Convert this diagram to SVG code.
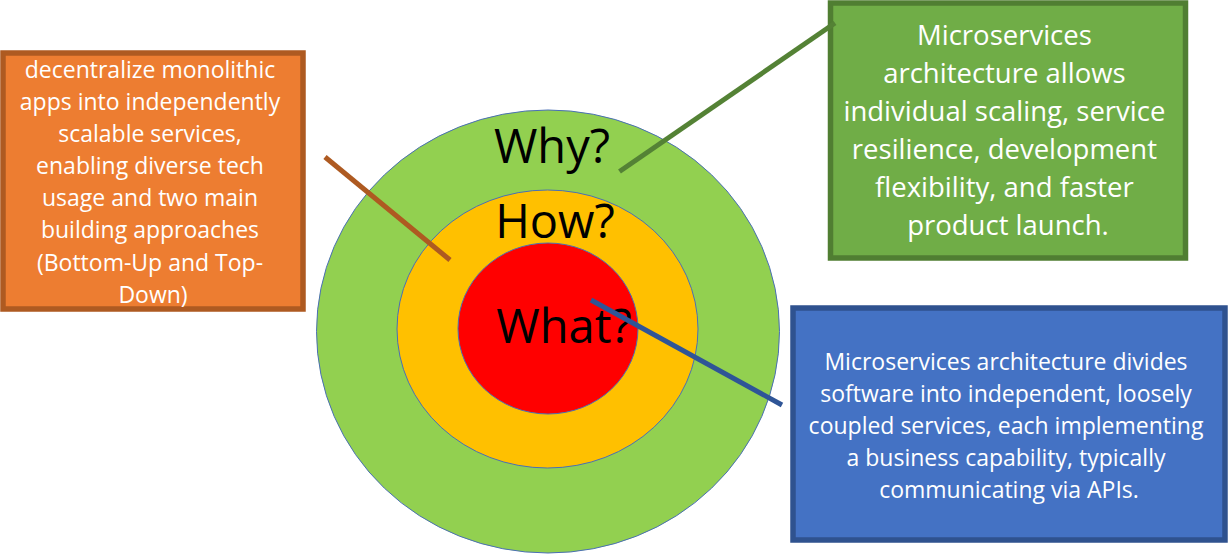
<svg xmlns="http://www.w3.org/2000/svg" width="1232" height="554" viewBox="0 0 1232 554">
<style>
.ring{stroke:#4A6FB5;stroke-width:1}
.q{font-family:"Open Sans","Liberation Sans",sans-serif;font-size:47px;fill:#000;text-anchor:middle}
.box{stroke-width:5.5}
.bt{font-family:"Open Sans","Liberation Sans",sans-serif;fill:#fff;text-anchor:middle}
.s23{font-size:23px}
.s27{font-size:27.5px}
.conn{stroke-width:5;fill:none}
</style>
<rect width="1232" height="554" fill="#fff"/>
<g id="why">
<ellipse class="ring" cx="548" cy="331.5" rx="231.5" ry="221.5" fill="#92D050"/>
<text class="q" x="552" y="163">Why?</text>
</g>
<g id="how">
<ellipse class="ring" cx="547.5" cy="329" rx="150.5" ry="139" fill="#FFC000"/>
<text class="q" x="555" y="238">How?</text>
</g>
<g id="what">
<ellipse class="ring" cx="548" cy="328.5" rx="90" ry="85.5" fill="#FF0000"/>
<text class="q" x="564" y="343">What?</text>
</g>
<g id="box-how">
<rect class="box" x="3" y="53" width="300" height="256" fill="#ED7D31" stroke="#AE5A21"/>
<text class="bt s23">
<tspan x="153" y="78">decentralize monolithic</tspan>
<tspan x="153" y="110">apps into independently</tspan>
<tspan x="153" y="142">scalable services,</tspan>
<tspan x="153" y="174">enabling diverse tech</tspan>
<tspan x="153" y="206">usage and two main</tspan>
<tspan x="153" y="238">building approaches</tspan>
<tspan x="153" y="271">(Bottom-Up and Top-</tspan>
<tspan x="153" y="303">Down)</tspan>
</text>
</g>
<g id="box-why">
<rect class="box" x="830.5" y="3" width="355" height="255" fill="#70AD47" stroke="#507E32"/>
<text class="bt s27">
<tspan x="1008" y="45">Microservices</tspan>
<tspan x="1008" y="83">architecture allows</tspan>
<tspan x="1008" y="121">individual scaling, service</tspan>
<tspan x="1008" y="159">resilience, development</tspan>
<tspan x="1008" y="197">flexibility, and faster</tspan>
<tspan x="1008" y="235">product launch.</tspan>
</text>
</g>
<g id="box-what">
<rect class="box" x="793" y="308" width="432" height="232" fill="#4472C4" stroke="#2F528F"/>
<text class="bt s23">
<tspan x="1009" y="370">Microservices architecture divides</tspan>
<tspan x="1009" y="402">software into independent, loosely</tspan>
<tspan x="1009" y="434">coupled services, each implementing</tspan>
<tspan x="1009" y="466">a business capability, typically</tspan>
<tspan x="1009" y="498">communicating via APIs.</tspan>
</text>
</g>
<g id="connectors">
<line class="conn" x1="325" y1="157" x2="450" y2="260" stroke="#AE5A21"/>
<line class="conn" x1="835" y1="23" x2="619.5" y2="171.5" stroke="#548235"/>
<line class="conn" x1="591" y1="300" x2="782" y2="405" stroke="#2F5597"/>
</g>
</svg>
